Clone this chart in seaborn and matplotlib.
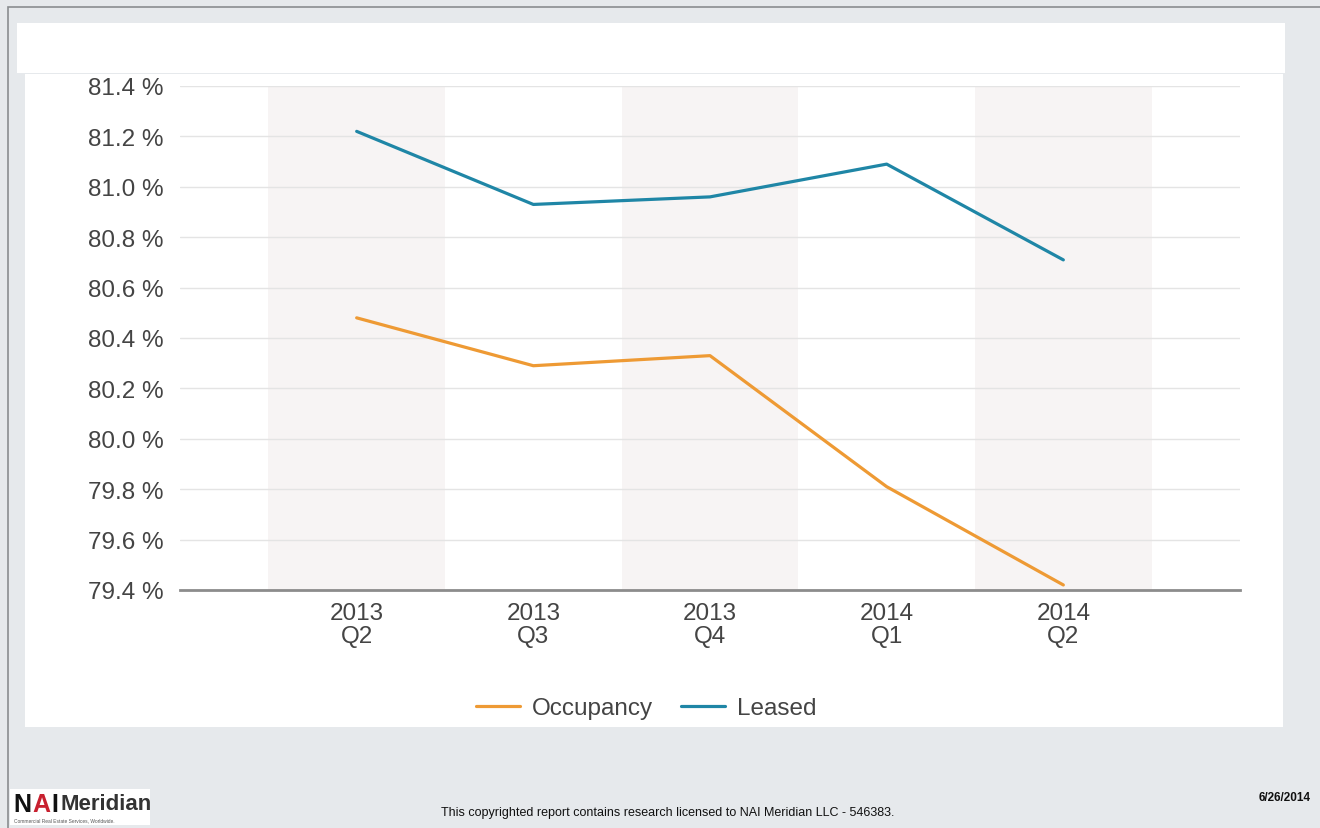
import matplotlib
matplotlib.use("Agg")
import matplotlib.pyplot as plt
import matplotlib.patches as mpatches
import seaborn as sns
import pandas as pd

# Quarterly rates (%)
quarters = ["2013\nQ2", "2013\nQ3", "2013\nQ4", "2014\nQ1", "2014\nQ2"]
occupancy = [80.48, 80.29, 80.33, 79.81, 79.42]
leased = [81.22, 80.93, 80.96, 81.09, 80.71]
y_ticks = [79.4, 79.6, 79.8, 80.0, 80.2, 80.4, 80.6, 80.8, 81.0, 81.2, 81.4]
series_names = ["Occupancy", "Leased"]
series_colors = ["#ee9a34", "#1f86a6"]

sns.set_theme(style="white")
plt.rcParams["font.family"] = ["Liberation Sans", "DejaVu Sans"]

W, H = 1320, 829
fig = plt.figure(figsize=(W / 100, H / 100), dpi=100, facecolor="#e6e9ec")


def px_rect(x0, y0, x1, y1, **kw):
    return mpatches.Rectangle((x0 / W, 1 - y1 / H), (x1 - x0) / W, (y1 - y0) / H,
                              transform=fig.transFigure, zorder=-5, **kw)


# page frame and white panels
fig.patches.append(px_rect(8, 8, 1330, 840, facecolor="none", edgecolor="#8a8d90", lw=1.2))
fig.patches.append(px_rect(17, 24, 1285, 74, facecolor="white", edgecolor="none"))
fig.patches.append(px_rect(25, 75, 1283, 728, facecolor="white", edgecolor="none"))
fig.patches.append(px_rect(10, 790, 150, 826, facecolor="white", edgecolor="none"))

ax = fig.add_axes([180 / W, 238 / H, 1060 / W, 504 / H])
ax.set_facecolor("none")

df = pd.DataFrame({
    "quarter": list(range(len(quarters))) * 2,
    "value": occupancy + leased,
    "series": [series_names[0]] * len(quarters) + [series_names[1]] * len(quarters),
})

# alternating shaded bands behind every other quarter
for i in range(0, len(quarters), 2):
    ax.axvspan(i - 0.5, i + 0.5, color="#f7f4f4", zorder=0, lw=0)

for yv in y_ticks:
    ax.axhline(yv, color="#e4e4e4", lw=1, zorder=1)

sns.lineplot(data=df, x="quarter", y="value", hue="series",
             palette=dict(zip(series_names, series_colors)),
             linewidth=2.3, ax=ax, legend=False, zorder=3)

ax.set_xlim(-1, len(quarters))
ax.set_ylim(y_ticks[0], y_ticks[-1])
ax.set_yticks(y_ticks)
ax.set_yticklabels([f"{v:.1f} %" for v in y_ticks])
ax.set_xticks(range(len(quarters)))
ax.set_xticklabels(quarters, linespacing=1.05)
ax.tick_params(axis="both", colors="#444444", labelsize=17.5, length=0)
ax.tick_params(axis="y", pad=12)
ax.tick_params(axis="x", pad=9)
ax.set_xlabel("")
ax.set_ylabel("")
for side in ["top", "right", "left"]:
    ax.spines[side].set_visible(False)
ax.spines["bottom"].set_color("#8c8c8c")
ax.spines["bottom"].set_linewidth(2)
ax.spines["bottom"].set_zorder(4)

handles = [plt.Line2D([], [], color=c, lw=2.3) for c in series_colors]
fig.legend(handles, series_names, loc="center", bbox_to_anchor=(646 / W, 1 - 709 / H),
           ncol=2, frameon=False, fontsize=17.5, handlelength=1.8, columnspacing=1.15,
           handletextpad=0.5, labelcolor="#444444")

# footer: logo, notice, date
logo_y = 1 - 805 / H
fig.text(13 / W, logo_y, "N", fontsize=18, fontweight="bold", color="#111111",
         va="center", ha="left")
fig.text(32 / W, logo_y, "A", fontsize=18, fontweight="bold", color="#c8202f",
         va="center", ha="left")
fig.text(51 / W, logo_y, "I", fontsize=18, fontweight="bold", color="#111111",
         va="center", ha="left")
fig.text(60 / W, logo_y, "Meridian", fontsize=16, fontweight="bold", color="#333333",
         va="center", ha="left")
fig.text(14 / W, 1 - 821 / H, "Commercial Real Estate Services, Worldwide.", fontsize=3.5,
         color="#555555", va="center", ha="left")
fig.text(668 / W, 1 - 813 / H,
         "This copyrighted report contains research licensed to NAI Meridian LLC - 546383.",
         fontsize=9, color="#111111", va="center", ha="center")
fig.text(1311 / W, 1 - 798 / H, "6/26/2014", fontsize=8.5, fontweight="bold",
         color="#111111", va="center", ha="right")

fig.savefig("out.png", dpi=100, facecolor=fig.get_facecolor())
